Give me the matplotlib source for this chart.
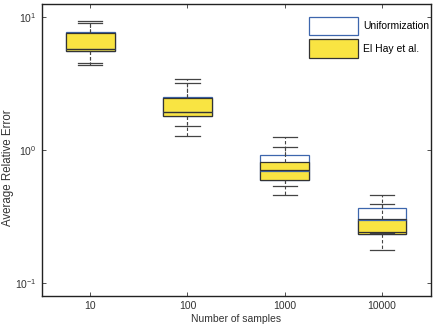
import numpy as np
import matplotlib
matplotlib.use("Agg")
import matplotlib.pyplot as plt
from matplotlib.patches import Patch

plt.rcParams["font.family"] = ["Liberation Sans", "DejaVu Sans"]

samples = ["10", "100", "1000", "10000"]

# Uniformization
uni_q1 = [5.56, 1.80, 0.593, 0.234]
uni_med = [5.72, 1.92, 0.700, 0.300]
uni_q3 = [7.75, 2.52, 0.917, 0.368]
uni_lo = [4.33, 1.28, 0.456, 0.177]
uni_hi = [9.37, 3.39, 1.26, 0.456]

# El Hay et al.
elh_q1 = [5.56, 1.80, 0.593, 0.234]
elh_med = [5.72, 1.92, 0.705, 0.240]
elh_q3 = [7.60, 2.45, 0.807, 0.304]
elh_lo = [4.48, 1.52, 0.534, 0.236]
elh_hi = [9.05, 3.16, 1.05, 0.395]

yellow = "#f9e442"
blue = "#3d66ad"
dark = "#333333"


def stats(q1, med, q3, lo, hi):
    return [dict(q1=a, med=b, q3=c, whislo=d, whishi=e, fliers=[])
            for a, b, c, d, e in zip(q1, med, q3, lo, hi)]


fig = plt.figure(figsize=(4.34, 3.24), dpi=100)
ax = fig.add_axes([0.096, 0.0864, 0.896, 0.9013])

pos = np.arange(1, len(samples) + 1)
whisk = dict(color="#444444", linestyle=(0, (3, 2)), linewidth=0.8)
caps = dict(color="#444444", linewidth=0.9)

ax.bxp(stats(uni_q1, uni_med, uni_q3, uni_lo, uni_hi), positions=pos, widths=0.5,
       patch_artist=True, showfliers=False,
       boxprops=dict(facecolor="white", edgecolor=blue, linewidth=0.9),
       medianprops=dict(color=blue, linewidth=0.9),
       whiskerprops=whisk, capprops=caps)
ax.bxp(stats(elh_q1, elh_med, elh_q3, elh_lo, elh_hi), positions=pos, widths=0.5,
       patch_artist=True, showfliers=False,
       boxprops=dict(facecolor=yellow, edgecolor=dark, linewidth=0.9),
       medianprops=dict(color=dark, linewidth=0.9),
       whiskerprops=whisk, capprops=caps)

ax.set_yscale("log")
ax.set_ylim(0.08, 12.5)
ax.set_xlim(0.5, 4.5)
ax.set_xticks(pos)
ax.set_xticklabels(samples)
ax.set_yticks([0.1, 1, 10])
ax.yaxis.set_minor_locator(matplotlib.ticker.NullLocator())
ax.tick_params(which="both", direction="in", top=True, right=True,
               labelsize=7.5, length=3, width=0.6, colors="#333333")
for s in ax.spines.values():
    s.set_linewidth(1.0)
    s.set_color("#222222")

ax.set_xlabel("Number of samples", fontsize=7.5, color="#333333", labelpad=2)
ax.set_ylabel("Average Relative Error", fontsize=8.3, color="#333333")
ax.yaxis.set_label_coords(-0.072, 0.44)

handles = [Patch(facecolor="white", edgecolor=blue, linewidth=0.9),
           Patch(facecolor=yellow, edgecolor=dark, linewidth=0.9)]
ax.legend(handles, ["Uniformization", "El Hay et al."], loc="upper left",
          bbox_to_anchor=(0.687, 0.957), frameon=False, fontsize=7.5,
          handlelength=4.7, handleheight=2.4, labelspacing=0.35,
          handletextpad=0.5, borderpad=0, borderaxespad=0)

fig.savefig("out.png", dpi=100)
